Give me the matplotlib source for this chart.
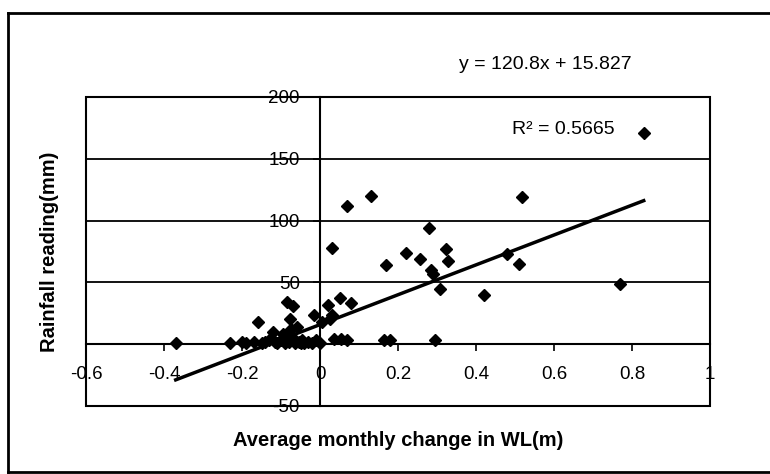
# Rainfall reading vs average monthly change in water level, with Excel-style trend line
import matplotlib
matplotlib.use("Agg")
import matplotlib.pyplot as plt
from matplotlib.lines import Line2D
from matplotlib.ticker import FixedLocator, FuncFormatter

# average monthly change in WL (m) and rainfall (mm)
wl_change = [-0.37, -0.23, -0.20, -0.19, -0.17, -0.16, -0.15, -0.14, -0.13, -0.12,
             -0.115, -0.11, -0.10, -0.095, -0.09, -0.085, -0.08, -0.078, -0.075, -0.07,
             -0.068, -0.065, -0.06, -0.055, -0.05, -0.045, -0.04, -0.03, -0.02, -0.015,
             -0.01, 0.0, 0.005, 0.02, 0.025, 0.03, 0.032, 0.035, 0.05, 0.055,
             0.068, 0.07, 0.08, 0.13, 0.165, 0.17, 0.18, 0.22, 0.256, 0.28,
             0.284, 0.29, 0.295, 0.308, 0.322, 0.327, 0.421, 0.479, 0.511, 0.519,
             0.769, 0.83]
rainfall = [1, 1, 2, 1, 2, 18, 1, 2, 3, 10,
            2, 1, 3, 8, 1, 34, 2, 20, 12, 31,
            5, 1, 14, 2, 1, 3, 1, 2, 1, 24,
            3, 1, 18, 32, 20, 78, 24, 4, 37, 4,
            3, 112, 33, 120, 3, 64, 3, 74, 69, 94,
            60, 57, 3, 45, 77, 67, 40, 73, 65, 119,
            49, 171]

slope = 120.8
intercept = 15.827
r_squared = 0.5665

x_ticks = [-0.6, -0.4, -0.2, 0, 0.2, 0.4, 0.6, 0.8, 1]
y_ticks = [-50, 0, 50, 100, 150, 200]

plt.rcParams['font.family'] = ['Liberation Sans Narrow', 'Liberation Sans', 'DejaVu Sans']
plt.rcParams['axes.unicode_minus'] = False

fig = plt.figure(figsize=(7.7, 4.74), dpi=100)
ax = fig.add_axes([0.1117, 0.1435, 0.8104, 0.652])

ax.set_xlim(-0.6, 1)
ax.set_ylim(-50, 200)

# plot area box drawn by the axes patch, axes cross at zero
ax.patch.set_edgecolor("black")
ax.patch.set_linewidth(1.5)
ax.spines["top"].set_visible(False)
ax.spines["right"].set_visible(False)
ax.spines["left"].set_position(("data", 0))
ax.spines["bottom"].set_position(("data", 0))
ax.spines["left"].set_linewidth(1.5)
ax.spines["bottom"].set_linewidth(1.5)

ax.xaxis.set_major_locator(FixedLocator(x_ticks))
ax.yaxis.set_major_locator(FixedLocator(y_ticks))
ax.xaxis.set_major_formatter(FuncFormatter(lambda v, p: "%g" % round(v, 2)))
ax.yaxis.set_major_formatter(FuncFormatter(lambda v, p: "" if v == 0 else "%g" % v))
ax.tick_params(axis="x", direction="out", length=5, width=1.2, labelsize=13.5, pad=11)
ax.tick_params(axis="y", direction="out", length=5, width=1.2, labelsize=13.5, pad=9.5)

for yv in y_ticks:
    ax.axhline(yv, color="black", linewidth=1.3, zorder=1)

ax.plot(wl_change, rainfall, linestyle="none", marker="D", ms=6.5,
        color="black", zorder=3)

x_fit = [min(wl_change), max(wl_change)]
y_fit = [slope * v + intercept for v in x_fit]
ax.plot(x_fit, y_fit, color="black", linewidth=2.5, zorder=4)

ax.set_xlabel("Average monthly change in WL(m)", fontsize=14.5, fontweight="bold")
ax.set_ylabel("Rainfall reading(mm)", fontsize=14.5, fontweight="bold")
ax.xaxis.set_label_coords(0.5, -0.08)
ax.yaxis.set_label_coords(-0.044, 0.5)

fig.text(0.708, 0.863, "y = %.1fx + %.3f" % (slope, intercept), fontsize=14,
         ha="center", va="center")
fig.text(0.732, 0.726, "R\u00b2 = %.4f" % r_squared, fontsize=14,
         ha="center", va="center")

# outer chart frame
frame = dict(color="black", linewidth=2, transform=fig.transFigure)
fig.add_artist(Line2D([8 / 770, 8 / 770], [1 - 13 / 474, 1 - 472 / 474], **frame))
fig.add_artist(Line2D([8 / 770, 1.0], [1 - 13 / 474, 1 - 13 / 474], **frame))
fig.add_artist(Line2D([8 / 770, 1.0], [1 - 472 / 474, 1 - 472 / 474], **frame))

plt.savefig("out.png", dpi=100)
